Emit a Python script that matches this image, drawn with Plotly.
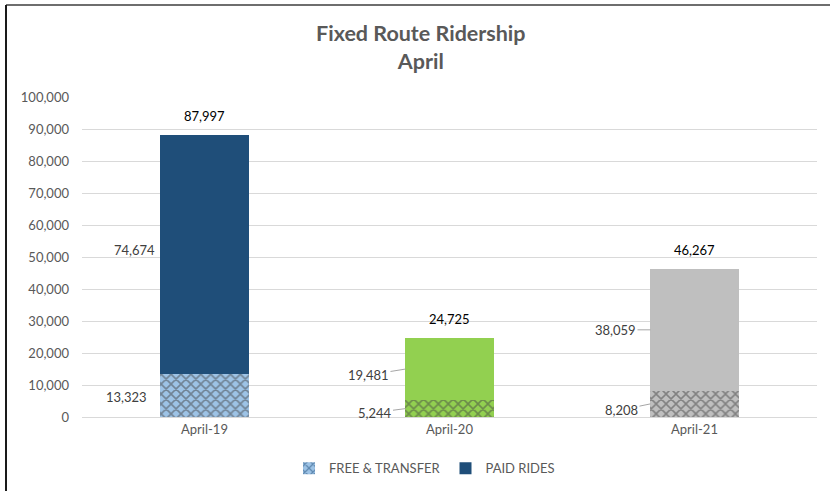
import plotly.graph_objects as go

# data
months = ["April-19", "April-20", "April-21"]
free_transfer = [13323, 5244, 8208]
paid_rides = [74674, 19481, 38059]
totals = [a + b for a, b in zip(free_transfer, paid_rides)]

paid_colors = ["#1F4E79", "#92D050", "#BFBFBF"]
free_colors = ["#9DC3E6", "#92D050", "#BFBFBF"]

FONT = "Lato, 'Open Sans', sans-serif"
HALF_BAR = 44

fig = go.Figure()

fig.add_trace(go.Bar(
    x=months,
    y=free_transfer,
    name="FREE & TRANSFER",
    marker=dict(
        color=free_colors,
        line=dict(width=0),
        pattern=dict(shape="x", fgcolor="#1F4E79", size=7, solidity=0.4),
    ),
))

fig.add_trace(go.Bar(
    x=months,
    y=paid_rides,
    name="PAID RIDES",
    marker=dict(color=paid_colors, line=dict(width=0)),
))

# label offsets (text centre relative to bar's left edge at segment midpoint), leader flag
free_offsets = [(-34, 1, False), (-31, 4, True), (-29, 6, True)]
paid_offsets = [(-26, -5, False), (-37, 6, True), (-35, 0, True)]

annotations = []
for i, m in enumerate(months):
    segs = [
        (free_transfer[i], free_transfer[i] / 2, free_offsets[i]),
        (paid_rides[i], free_transfer[i] + paid_rides[i] / 2, paid_offsets[i]),
    ]
    for val, mid, (ax, ay, leader) in segs:
        annotations.append(dict(
            x=m, y=mid, xref="x", yref="y",
            xshift=-HALF_BAR,
            text=f"{val:,}",
            showarrow=True,
            arrowhead=0,
            arrowwidth=1,
            arrowcolor="#A6A6A6" if leader else "rgba(0,0,0,0)",
            ax=ax, ay=ay,
            standoff=0,
            font=dict(family=FONT, size=13, color="#404040"),
        ))
    annotations.append(dict(
        x=m, y=totals[i], xref="x", yref="y",
        text=f"{totals[i]:,}",
        showarrow=False,
        yanchor="bottom",
        yshift=9,
        font=dict(family=FONT, size=13, color="#000000"),
    ))

fig.update_layout(
    barmode="stack",
    bargap=0.64,
    width=830,
    height=491,
    margin=dict(l=82, r=13, t=97, b=74, autoexpand=False),
    paper_bgcolor="white",
    plot_bgcolor="white",
    font=dict(family=FONT, color="#595959"),
    title=dict(
        text="<b>Fixed Route Ridership<br>April</b>",
        x=0.507, xanchor="center",
        y=1 - 41 / 491, yanchor="middle",
        font=dict(family=FONT, size=21.5, color="#595959"),
    ),
    xaxis=dict(
        showgrid=False,
        showline=True,
        linecolor="#D9D9D9",
        linewidth=1,
        ticks="",
        tickfont=dict(family=FONT, size=13, color="#595959"),
    ),
    yaxis=dict(
        range=[0, 100000],
        dtick=10000,
        tickformat=",",
        showgrid=True,
        gridcolor="#D9D9D9",
        gridwidth=1,
        zeroline=False,
        showline=False,
        ticks="",
        ticklabelstandoff=12,
        tickfont=dict(family=FONT, size=13, color="#595959"),
    ),
    legend=dict(
        orientation="h",
        traceorder="normal",
        x=0.466, xanchor="center",
        y=-0.16, yanchor="middle",
        font=dict(family=FONT, size=13, color="#595959"),
        itemwidth=30,
    ),
    annotations=annotations,
    shapes=[
        dict(type="line", xref="paper", yref="paper",
             x0=-0.1034, x1=1.05, y0=1.2875, y1=1.2875,
             line=dict(color="#6E6E6E", width=2)),
        dict(type="line", xref="paper", yref="paper",
             x0=-0.1034, x1=-0.1034, y0=1.2875, y1=-0.3,
             line=dict(color="#1A1A1A", width=2)),
    ],
)

# drop the default page margin so the chart sits at the window's corner
fig.write_html(
    "out.html",
    config={"displayModeBar": False},
    post_script="document.body.style.margin = '0';",
)
